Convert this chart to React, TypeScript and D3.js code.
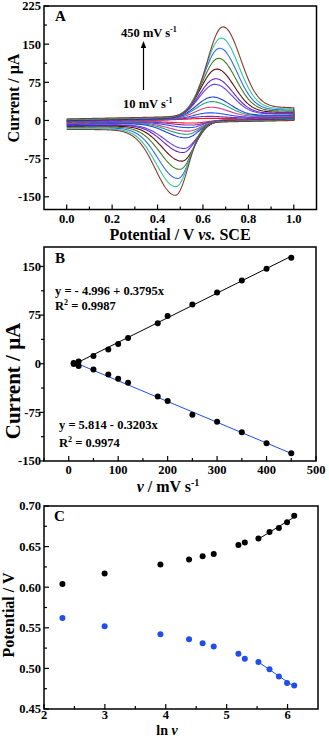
import * as d3 from "d3";

// scan rates, mV s-1
const scanRates = [10, 20, 50, 80, 100, 120, 180, 200, 250, 300, 350, 400, 450];

// panel A: peak currents (uA)
const cvAnodicPeak = [4, 8, 15, 26, 37, 46, 71, 82, 101, 122, 142, 162, 184];
const cvCathodicPeak = [-5, -9, -14, -21, -27, -34, -55, -63, -80, -96, -114, -130, -147];
const cvColors = [
  "#ee1c24", "#8a2aa8", "#2a55f0", "#cf3f86", "#22a577", "#1d3fe2", "#5c43e6",
  "#6b22c4", "#5c0c18", "#3f7d1b", "#2f6cf2", "#2ec89c", "#8b3b2d",
];

// panel B: peak current vs scan rate
const anodicCurrent = [1, 3.5, 12, 22, 30.5, 39.5, 62.5, 73.5, 91.5, 110, 128.5, 146.5, 163.5];
const cathodicCurrent = [-0.5, -3.5, -9, -16.5, -23, -29.5, -50.5, -57.5, -78.5, -89.5, -105.5, -122.5, -138];
const anodicFit = [-4.996, 0.3795];
const cathodicFit = [5.814, -0.3203];

// panel C: peak potential vs ln v
const anodicPotential = [0.604, 0.617, 0.628, 0.634, 0.638, 0.641, 0.652, 0.655, 0.66, 0.668, 0.673, 0.68, 0.688];
const cathodicPotential = [0.562, 0.552, 0.542, 0.536, 0.531, 0.527, 0.518, 0.512, 0.508, 0.499, 0.49, 0.482, 0.479];

const FONT = "'Liberation Serif', 'Times New Roman', serif";
const BLUE = "#1f4fe6";

const boxA = { left: 44, right: 316.5, top: 6, bottom: 209.5 };
const boxB = { left: 44, right: 316, top: 247, bottom: 461 };
const boxC = { left: 44, right: 318, top: 506, bottom: 709 };

const xA = d3.scaleLinear().domain([-0.1, 1.1]).range([boxA.left, boxA.right]);
const yA = d3.scaleLinear().domain([-175, 225]).range([boxA.bottom, boxA.top]);
const xB = d3.scaleLinear().domain([-50, 500]).range([boxB.left, boxB.right]);
const yB = d3.scaleLinear().domain([-150, 180]).range([boxB.bottom, boxB.top]);
const xC = d3.scaleLinear().domain([2, 6.5]).range([boxC.left, boxC.right]);
const yC = d3.scaleLinear().domain([0.45, 0.7]).range([boxC.bottom, boxC.top]);

// shape of the voltammetric waves around the peak potentials
const background = (E: number) => -4 + 9 * E;
const anodicWave = (E: number, Ep: number) => {
  const x = E - Ep;
  if (x < 0) return Math.exp(-(x * x) / (2 * 0.07 * 0.07));
  const tail = 0.2 / Math.sqrt(1 + x / 0.05);
  return tail + (1 - tail) * Math.exp(-(x * x) / (2 * 0.075 * 0.075));
};
const cathodicWave = (E: number, Ep: number) => {
  const x = Ep - E;
  if (x < 0) return Math.exp(-(x * x) / (2 * 0.056 * 0.056));
  const tail = 0.2 / Math.sqrt(1 + x / 0.05);
  return tail + (1 - tail) * Math.exp(-(x * x) / (2 * 0.085 * 0.085));
};

const grid = d3.range(0, 201).map((i) => i / 200);

function cvPoints(i: number): [number, number][] {
  const s = scanRates[i] / 450;
  const Epa = anodicPotential[i];
  const Epc = cathodicPotential[i];
  const fwd = (E: number) => background(E) + 1 + 6 * s;
  const rev = (E: number) => background(E) - 1 - 4 * s;
  const ia = cvAnodicPeak[i] - fwd(Epa);
  const ic = cvCathodicPeak[i] - rev(Epc);
  const forward = grid.map((E) => [E, fwd(E) + ia * anodicWave(E, Epa)] as [number, number]);
  const reverse = grid
    .slice()
    .reverse()
    .map((E) => [E, rev(E) + ic * cathodicWave(E, Epc)] as [number, number]);
  return forward.concat(reverse);
}

const cvLine = d3.line<[number, number]>().x((d) => xA(d[0])).y((d) => yA(d[1]));

type Box = { left: number; right: number; top: number; bottom: number };

function Frame(props: {
  box: Box;
  x: d3.ScaleLinear<number, number>;
  y: d3.ScaleLinear<number, number>;
  xMajor: number[];
  xMinor: number[];
  yMajor: number[];
  yMinor: number[];
  xFmt: (v: number) => string;
  yFmt: (v: number) => string;
  yOut?: boolean;
  labelGap?: number;
}) {
  const { box, x, y, xMajor, xMinor, yMajor, yMinor, xFmt, yFmt, yOut } = props;
  const gap = props.labelGap ?? 13;
  const dir = yOut ? -1 : 1;
  return (
    <g stroke="#000" strokeWidth={1.2}>
      {xMajor.map((v) => (
        <line key={"xM" + v} x1={x(v)} x2={x(v)} y1={box.bottom} y2={box.bottom - 5} />
      ))}
      {xMinor.map((v) => (
        <line key={"xm" + v} x1={x(v)} x2={x(v)} y1={box.bottom} y2={box.bottom - 3} />
      ))}
      {yMajor.map((v) => (
        <line key={"yM" + v} x1={box.left} x2={box.left + 5 * dir} y1={y(v)} y2={y(v)} />
      ))}
      {yMinor.map((v) => (
        <line key={"ym" + v} x1={box.left} x2={box.left + 3 * dir} y1={y(v)} y2={y(v)} />
      ))}
      <rect
        x={box.left}
        y={box.top}
        width={box.right - box.left}
        height={box.bottom - box.top}
        fill="none"
        strokeWidth={1.5}
      />
      <g stroke="none" fill="#000" fontFamily={FONT} fontWeight="bold" fontSize={12.5}>
        {xMajor.map((v) => (
          <text key={"xl" + v} x={x(v)} y={box.bottom + gap} textAnchor="middle">
            {xFmt(v)}
          </text>
        ))}
        {yMajor.map((v) => (
          <text key={"yl" + v} x={box.left - 3} y={y(v)} dy="0.35em" textAnchor="end">
            {yFmt(v)}
          </text>
        ))}
      </g>
    </g>
  );
}

const fmtInt = (v: number) => String(v);

export default function App() {
  const bLine = (fit: number[]) =>
    [10, 450].map((v) => [xB(v), yB(fit[0] + fit[1] * v)] as [number, number]);

  const lnRates = scanRates.map((v) => Math.log(v));
  // least-squares line through the five fastest scans
  const fitLine = (ys: number[]) => {
    const xs = lnRates.slice(8);
    const yy = ys.slice(8);
    const mx = d3.mean(xs)!;
    const my = d3.mean(yy)!;
    const b = d3.sum(xs.map((x, k) => (x - mx) * (yy[k] - my))) / d3.sum(xs.map((x) => (x - mx) ** 2));
    const a = my - b * mx;
    return [xs[0], xs[xs.length - 1]].map((x) => [xC(x), yC(a + b * x)] as [number, number]);
  };
  const seg = d3.line();

  const text = { fontFamily: FONT, fontWeight: "bold" as const, fill: "#000" };

  return (
    <svg
      width={329}
      height={738}
      style={{ position: "absolute", left: 0, top: 0, background: "#fff" }}
    >
      {/* Panel A */}
      <g>
        {scanRates.map((r, i) => (
          <path key={r} d={cvLine(cvPoints(i)) || ""} fill="none" stroke={cvColors[i]} strokeWidth={1.1} />
        ))}
        <Frame
          box={boxA}
          x={xA}
          y={yA}
          xMajor={[0, 0.2, 0.4, 0.6, 0.8, 1.0]}
          xMinor={[0.1, 0.3, 0.5, 0.7, 0.9]}
          yMajor={[-150, -75, 0, 75, 150, 225]}
          yMinor={[-112.5, -37.5, 37.5, 112.5, 187.5]}
          xFmt={d3.format(".1f")}
          yFmt={fmtInt}
        />
        <text {...text} x={55} y={21} fontSize={15}>A</text>
        <line x1={143.5} x2={143.5} y1={90} y2={46} stroke="#000" strokeWidth={1.2} />
        <path d="M143.5,41 L140.8,48 L146.2,48 Z" fill="#000" />
        <text {...text} x={121} y={37} fontSize={12.5}>
          450 mV s<tspan fontSize={8} dy={-5}>-1</tspan>
        </text>
        <text {...text} x={123} y={107.5} fontSize={12.5}>
          10 mV s<tspan fontSize={8} dy={-5}>-1</tspan>
        </text>
        <text {...text} x={180} y={240} fontSize={16} textAnchor="middle">
          Potential / V <tspan fontStyle="italic">vs.</tspan> SCE
        </text>
        <text {...text} fontSize={16} textAnchor="middle" transform="translate(19,98) rotate(-90)">
          Current / μA
        </text>
      </g>

      {/* Panel B */}
      <g>
        <path d={seg(bLine(anodicFit)) || ""} stroke="#000" strokeWidth={1} fill="none" />
        <path d={seg(bLine(cathodicFit)) || ""} stroke={BLUE} strokeWidth={1} fill="none" />
        {scanRates.map((r, i) => (
          <g key={r}>
            <circle cx={xB(r)} cy={yB(anodicCurrent[i])} r={3} fill="#000" />
            <circle cx={xB(r)} cy={yB(cathodicCurrent[i])} r={3} fill="#000" />
          </g>
        ))}
        <Frame
          box={boxB}
          x={xB}
          y={yB}
          xMajor={[0, 100, 200, 300, 400, 500]}
          xMinor={[-50, 50, 150, 250, 350, 450]}
          yMajor={[-150, -75, 0, 75, 150]}
          yMinor={[-112.5, -37.5, 37.5, 112.5]}
          xFmt={fmtInt}
          yFmt={fmtInt}
          yOut
        />
        <text {...text} x={55} y={263} fontSize={15}>B</text>
        <text {...text} x={55} y={294.5} fontSize={12.5}>y = - 4.996 + 0.3795x</text>
        <text {...text} x={55} y={309.5} fontSize={12.5}>
          R<tspan fontSize={8} dy={-5}>2</tspan>
          <tspan dy={5}> = 0.9987</tspan>
        </text>
        <text {...text} x={59} y={428.5} fontSize={12.5}>y = 5.814 - 0.3203x</text>
        <text {...text} x={59} y={446.5} fontSize={12.5}>
          R<tspan fontSize={8} dy={-5}>2</tspan>
          <tspan dy={5}> = 0.9974</tspan>
        </text>
        <text {...text} x={168} y={492} fontSize={16} textAnchor="middle">
          <tspan fontStyle="italic">ν</tspan> / mV s<tspan fontSize={10} dy={-6}>-1</tspan>
        </text>
        <text {...text} fontSize={21} textAnchor="middle" transform="translate(20,381) rotate(-90)">
          Current / μA
        </text>
      </g>

      {/* Panel C */}
      <g>
        <path d={seg(fitLine(anodicPotential)) || ""} stroke="#000" strokeWidth={1} fill="none" />
        <path d={seg(fitLine(cathodicPotential)) || ""} stroke={BLUE} strokeWidth={1} fill="none" />
        {scanRates.map((r, i) => (
          <g key={r}>
            <circle cx={xC(lnRates[i])} cy={yC(anodicPotential[i])} r={3} fill="#000" />
            <circle cx={xC(lnRates[i])} cy={yC(cathodicPotential[i])} r={3} fill={BLUE} />
          </g>
        ))}
        <Frame
          box={boxC}
          x={xC}
          y={yC}
          xMajor={[2, 3, 4, 5, 6]}
          xMinor={[2.5, 3.5, 4.5, 5.5]}
          yMajor={[0.45, 0.5, 0.55, 0.6, 0.65, 0.7]}
          yMinor={[0.475, 0.525, 0.575, 0.625, 0.675]}
          xFmt={fmtInt}
          yFmt={d3.format(".2f")}
          labelGap={10}
        />
        <text {...text} x={54} y={521} fontSize={15}>C</text>
        <text {...text} x={167} y={734.5} fontSize={14} textAnchor="middle">
          ln <tspan fontStyle="italic">ν</tspan>
        </text>
        <text {...text} fontSize={16} textAnchor="middle" transform="translate(14,615) rotate(-90)">
          Potential / V
        </text>
      </g>
    </svg>
  );
}
